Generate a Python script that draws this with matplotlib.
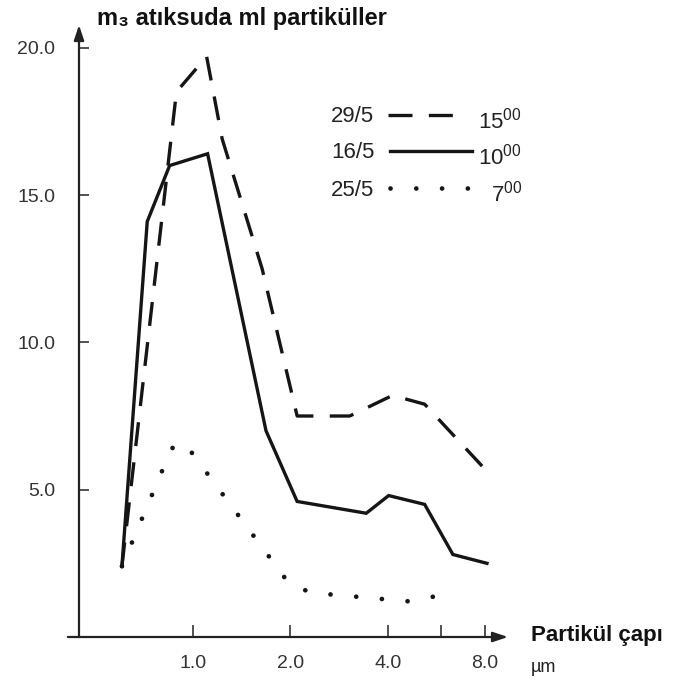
import matplotlib.pyplot as plt
from matplotlib.lines import Line2D

plt.rcParams['font.family'] = ['Liberation Sans', 'DejaVu Sans']
plt.rcParams['mathtext.fontset'] = 'custom'
plt.rcParams['mathtext.rm'] = 'Liberation Sans'

# x = position on the size axis (1 -> 1.0 um, 2 -> 2.0, 3 -> 4.0, 4 -> 8.0)
x_2905 = [0.27, 0.83, 1.14, 1.30, 1.71, 2.07, 2.61, 3.05, 3.38, 3.97]
y_2905 = [2.4, 18.5, 19.7, 16.9, 12.5, 7.5, 7.5, 8.2, 7.9, 5.8]

x_1605 = [0.27, 0.53, 0.76, 1.15, 1.75, 2.07, 2.78, 3.01, 3.38, 3.67, 4.02]
y_1605 = [2.4, 14.1, 16.0, 16.4, 7.0, 4.6, 4.2, 4.8, 4.5, 2.8, 2.5]

x_2505 = [0.27, 0.78, 0.91, 1.99, 2.22, 3.25, 3.51]
y_2505 = [2.4, 6.4, 6.6, 1.8, 1.5, 1.2, 1.4]

xtick_pos = [1, 2, 3, 3.55, 4]
xtick_labels = ['1.0', '2.0', '4.0', '', '8.0']
ytick_pos = [5, 10, 15, 20]
ytick_labels = ['5.0', '10.0', '15.0', '20.0']

dates = ['29/5', '16/5', '25/5']
hours = ['15', '10', '7']

ink = '#151515'
dash_style = (0, (7.2, 4.9))
dot_style = (0, (0.01, 5.45))

fig = plt.figure(figsize=(6.8, 6.84), dpi=100)
ax = fig.add_axes([79 / 680, 47 / 684, 429 / 680, 612 / 684])

ax.plot(x_2905, y_2905, color=ink, lw=2.4, linestyle=dash_style)
ax.plot(x_1605, y_1605, color=ink, lw=2.4, solid_joinstyle='miter')
ax.plot(x_2505, y_2505, color=ink, lw=3.4, linestyle=dot_style,
        dash_capstyle='round')

ax.set_xlim(-0.171, 4.236)
ax.set_ylim(0, 20.77)
for s in ax.spines.values():
    s.set_visible(False)

ax.set_xticks(xtick_pos)
ax.set_xticklabels(xtick_labels)
ax.set_yticks(ytick_pos)
ax.set_yticklabels(ytick_labels)
ax.tick_params(axis='x', direction='in', length=9, width=1.2, pad=13,
               labelsize=14, colors='#333')
ax.tick_params(axis='y', direction='in', length=7, width=1.2, pad=17,
               labelsize=14, colors='#333')

arrow = dict(arrowstyle='-|>,head_length=0.9,head_width=0.3', color='#222',
             lw=1.6, shrinkA=0, shrinkB=0)
ax.annotate('', xy=(1, 0), xytext=(-0.026, 0), xycoords='axes fraction',
            arrowprops=arrow, annotation_clip=False)
ax.annotate('', xy=(0, 1), xytext=(0, 0), xycoords='axes fraction',
            arrowprops=arrow, annotation_clip=False)

def fx(px):
    return px / 680

def fy(py):
    return 1 - py / 684

fig.text(fx(97), fy(18), 'm\u2083 atıksuda ml partiküller', weight='bold',
         size=17, va='center', color='#111')
fig.text(fx(531), fy(636), 'Partikül çapı', weight='bold', size=16,
         va='center', color='#111')
fig.text(fx(531), fy(667), 'µm', size=13, va='center', color='#222')

# legend, drawn by hand like the original
rows_y = [115, 151, 188]
line_x = [(388, 458), (390, 472), (390, 470)]
styles = [dict(linestyle=dash_style, lw=2.4),
          dict(linestyle='-', lw=2.4),
          dict(linestyle=dot_style, lw=3.4, dash_capstyle='round')]
for d, h, ry, lx, st in zip(dates, hours, rows_y, line_x, styles):
    fig.text(fx(331), fy(ry + 2), d, size=16, va='center', color='#222')
    fig.add_artist(Line2D([fx(lx[0]), fx(lx[1])], [fy(ry), fy(ry)], color=ink,
                          transform=fig.transFigure, **st))
    fig.text(fx(522), fy(ry + 6), h + r'$^{\mathregular{00}}$', size=16,
             va='center', ha='right', color='#222')

fig.savefig('out.png', dpi=100)
